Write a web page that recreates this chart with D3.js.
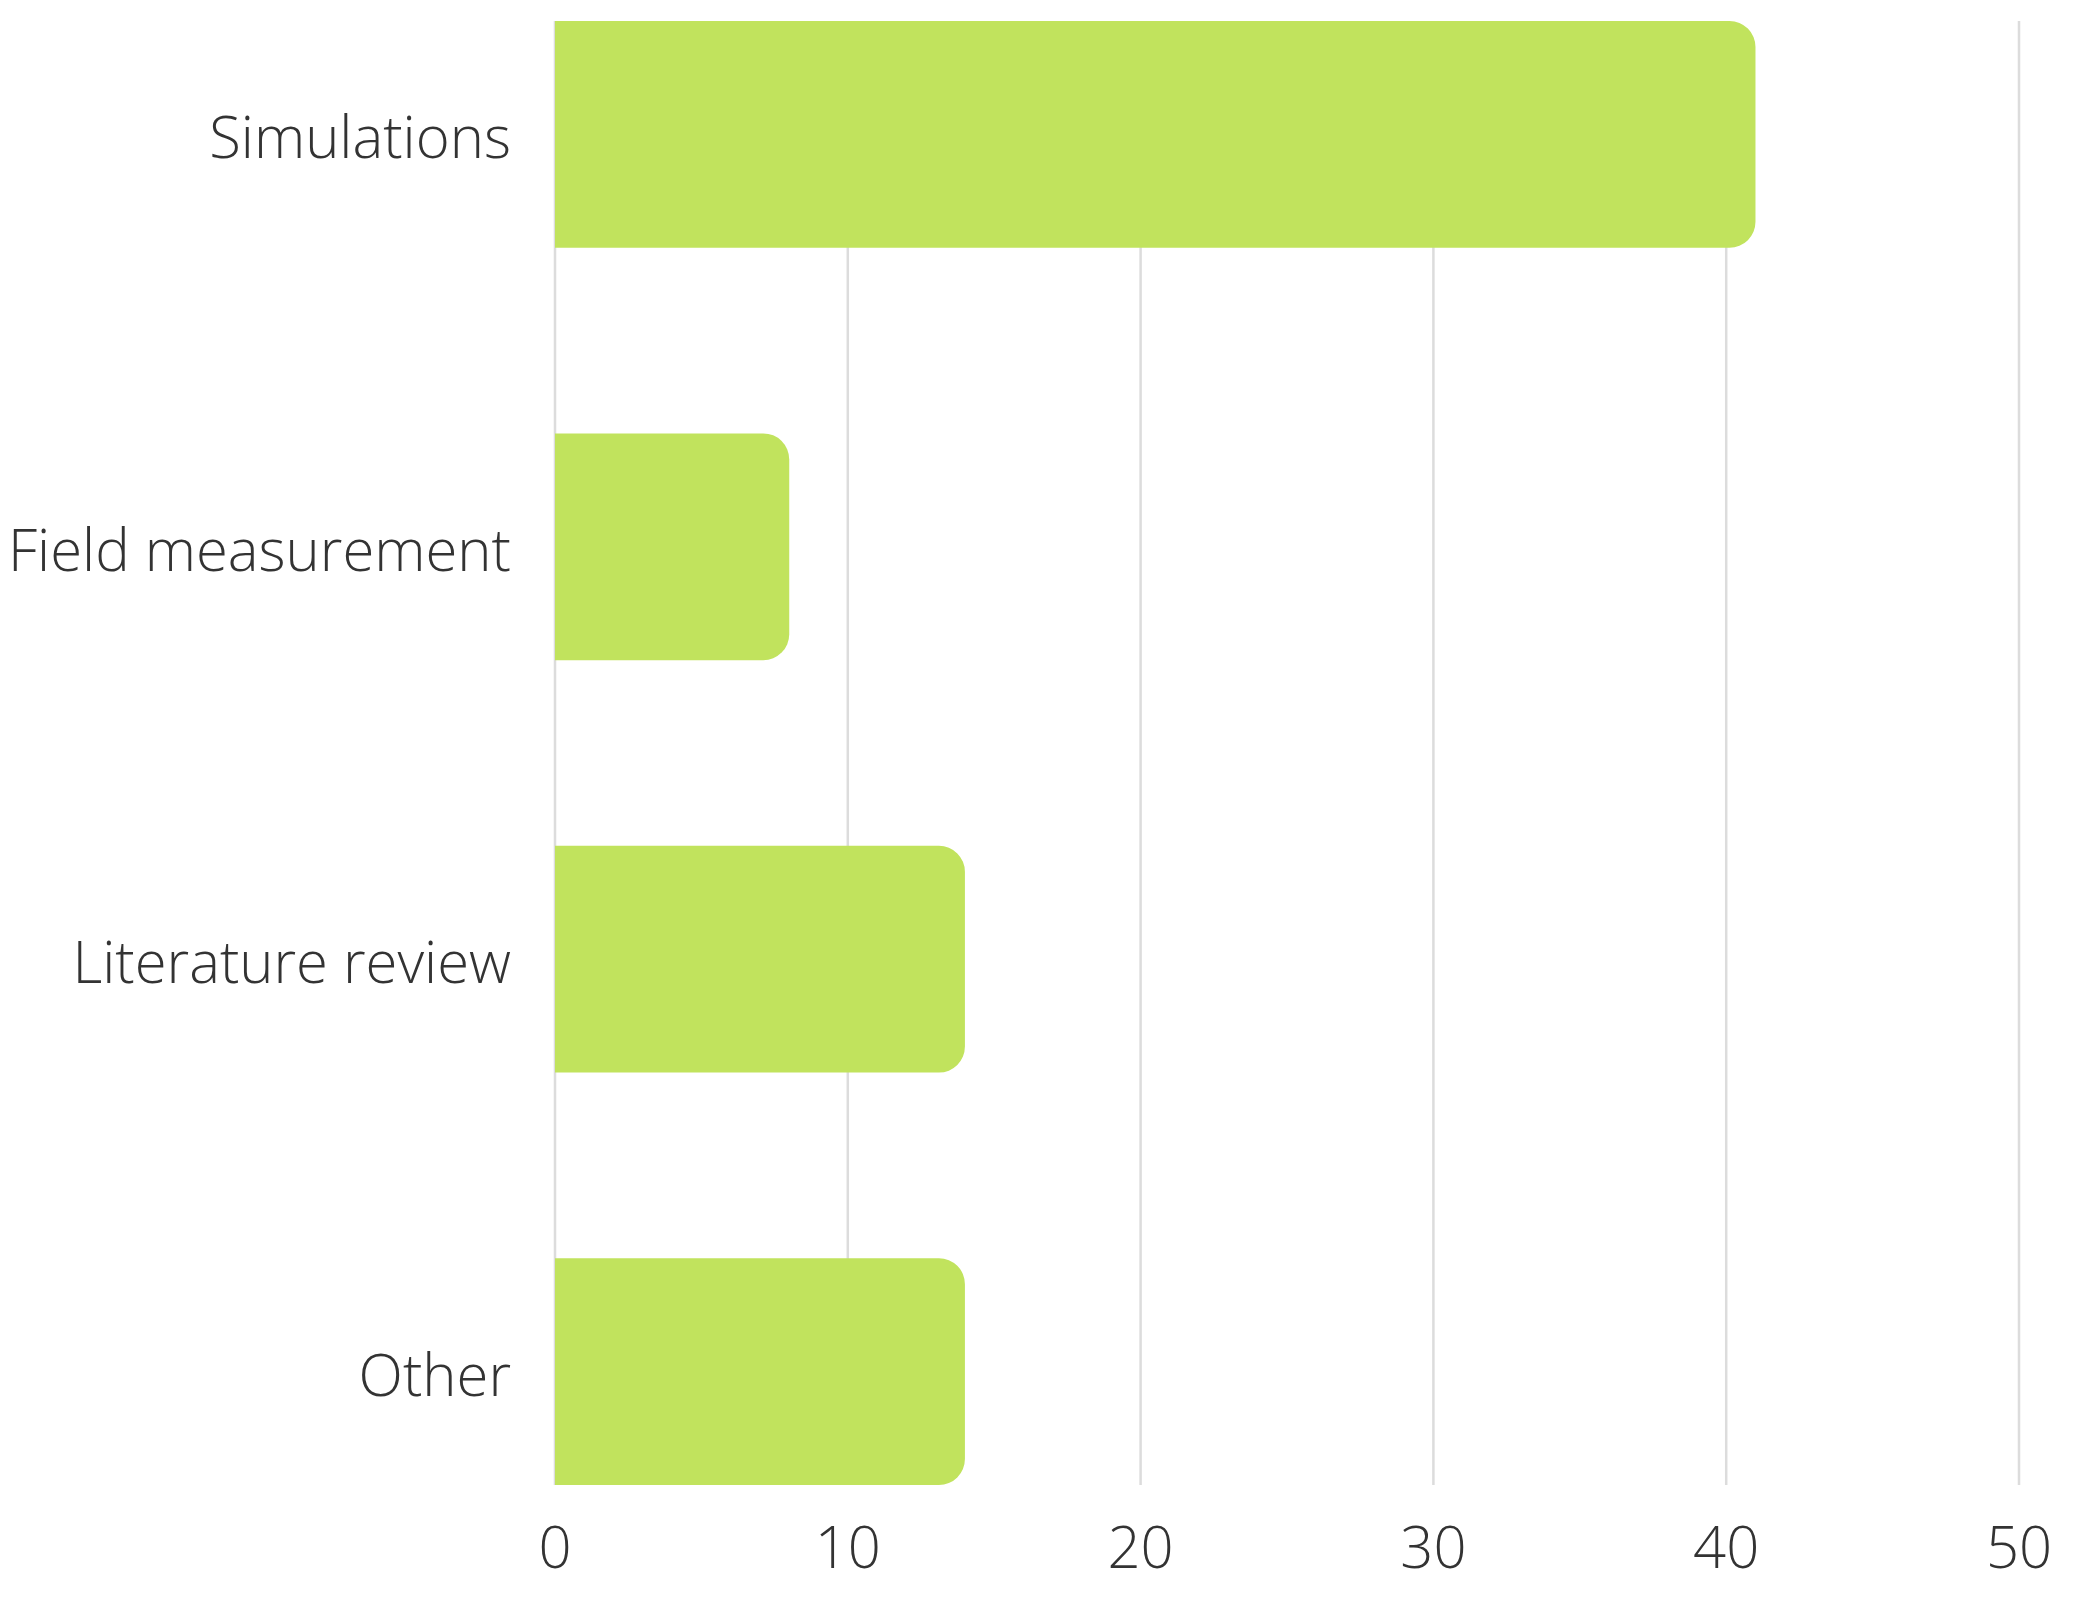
<!DOCTYPE html>
<html>
<head>
<meta charset="utf-8">
<script src="https://cdn.jsdelivr.net/npm/d3@7"></script>
<style>
  body { margin: 0; background: #fff; }
  text { font-family: "Open Sans", sans-serif; font-weight: 300; fill: #333; }
</style>
</head>
<body>
<div id="chart"></div>
<script>
// categories and values
const categories = ["Simulations", "Field measurement", "Literature review", "Other"];
const values = [41, 8, 14, 14];
const xTicks = [0, 10, 20, 30, 40, 50];

const width = 2077, height = 1608;
const margin = { top: 21, right: 58, bottom: 123, left: 555 };

const svg = d3.select("#chart")
    .append("svg")
    .attr("width", width)
    .attr("height", height);

const x = d3.scaleLinear()
    .domain([0, 50])
    .range([margin.left, width - margin.right]);

const y = d3.scaleBand()
    .domain(categories)
    .range([margin.top, height - margin.bottom])
    .paddingInner(0.45)
    .paddingOuter(0);

// vertical grid lines
svg.append("g")
    .selectAll("line")
    .data(xTicks)
    .enter()
    .append("line")
    .attr("x1", d => x(d))
    .attr("x2", d => x(d))
    .attr("y1", margin.top)
    .attr("y2", height - margin.bottom)
    .attr("stroke", "#dcdcdc")
    .attr("stroke-width", 2.5);

// bars, rounded on the right end only
const r = 26;
function barPath(d, i) {
  const x0 = x(0), x1 = x(d), y0 = y(categories[i]), h = y.bandwidth();
  const rr = Math.min(r, (x1 - x0), h / 2);
  return `M${x0},${y0}H${x1 - rr}A${rr},${rr} 0 0 1 ${x1},${y0 + rr}` +
         `V${y0 + h - rr}A${rr},${rr} 0 0 1 ${x1 - rr},${y0 + h}H${x0}Z`;
}

svg.append("g")
    .selectAll("path")
    .data(values)
    .enter()
    .append("path")
    .attr("d", barPath)
    .attr("fill", "#c1e35d");

// category labels
svg.append("g")
    .selectAll("text")
    .data(categories)
    .enter()
    .append("text")
    .attr("x", margin.left - 44)
    .attr("y", d => y(d) + y.bandwidth() / 2 + 24)
    .attr("text-anchor", "end")
    .attr("font-size", 58)
    .text(d => d);

// x tick labels
svg.append("g")
    .selectAll("text")
    .data(xTicks)
    .enter()
    .append("text")
    .attr("x", d => x(d))
    .attr("y", 1568)
    .attr("text-anchor", "middle")
    .attr("font-size", 58)
    .text(d => d);
</script>
</body>
</html>
